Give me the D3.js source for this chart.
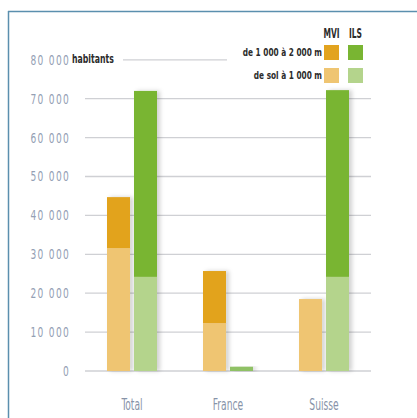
<!DOCTYPE html>
<html><head><meta charset="utf-8">
<script src="https://cdn.jsdelivr.net/npm/d3@7"></script>
<style>
html,body{margin:0;padding:0;background:#fff;}
text{font-family:"DejaVu Sans Condensed","DejaVu Sans",sans-serif;}
</style></head>
<body><svg id="c" width="417" height="418"></svg>
<script>
const categories = ["Total", "France", "Suisse"];
const series = ["MVI", "ILS"];
const layers = ["de sol à 1 000 m", "de 1 000 à 2 000 m"];
// [low (sol-1000), high (1000-2000)] per category, per series
const mviLow  = [31600, 12300, 18500];
const mviHigh = [13100, 13400, 0];
const ilsLow  = [24200, 1100, 24200];
const ilsHigh = [47800, 0, 48000];
const yTicks = [0, 10000, 20000, 30000, 40000, 50000, 60000, 70000, 80000];
const tickLabels = ["0", "10 000", "20 000", "30 000", "40 000", "50 000", "60 000", "70 000", "80 000"];

const colors = {
  MVI: ["#efc572", "#e2a31f"],
  ILS: ["#b4d48c", "#79b532"]
};
const franceIlsColor = "#8fc165";

const svg = d3.select("#c");
const defs = svg.append("defs");
const f = defs.append("filter").attr("id","sh").attr("x","-20%").attr("y","-5%").attr("width","160%").attr("height","110%");
f.append("feDropShadow").attr("dx",3).attr("dy",0).attr("stdDeviation",2).attr("flood-color","#000").attr("flood-opacity",0.18);

function sText(parent, x, y, str, o) {
  const g = parent.append("g").attr("transform", `translate(${x},${y}) scale(${o.sx},1)`);
  return g.append("text").attr("text-anchor", o.anchor || "start").attr("dy", o.dy || "0.35em")
    .attr("font-size", o.size).attr("font-weight", o.weight || "normal")
    .attr("letter-spacing", o.ls || 0).attr("fill", o.fill).text(str);
}

// frame
svg.append("line").attr("x1",8.5).attr("x2",8.5).attr("y1",11).attr("y2",418).attr("stroke","#5b8fae").attr("stroke-width",1.5);
svg.append("line").attr("x1",8).attr("x2",417).attr("y1",11.5).attr("y2",11.5).attr("stroke","#5b8fae").attr("stroke-width",1.5);

const y = d3.scaleLinear().domain([0, 80000]).range([371, 59.8]);
const x0 = d3.scaleBand().domain(categories).range([84, 372]).padding(0);
const x1 = d3.scaleBand().domain(series).range([0, x0.bandwidth()]).paddingInner(0.148).paddingOuter(0.852);

// gridlines
svg.append("g").selectAll("line").data(yTicks.slice(0, -1)).join("line")
  .attr("x1", 85).attr("x2", 371)
  .attr("y1", d => y(d)).attr("y2", d => y(d))
  .attr("stroke", "#cfd0d4").attr("stroke-width", 1.3);
svg.append("line").attr("x1",123).attr("x2",227).attr("y1",y(80000)).attr("y2",y(80000))
  .attr("stroke","#cfd0d4").attr("stroke-width",1.3);

// tick labels
const tg = svg.append("g");
yTicks.forEach((d, i) => {
  sText(tg, 70, y(d), tickLabels[i], {sx:0.72, size:14, anchor:"end", ls:1.8, fill:"#94a0b4"});
});
sText(svg, 72, y(80000) - 1, "habitants", {sx:0.72, size:12, weight:"bold", fill:"#2b2b2b"});

// bars
const data = [];
categories.forEach((c, i) => {
  data.push({c, s:"MVI", lo:mviLow[i], hi:mviHigh[i]});
  data.push({c, s:"ILS", lo:ilsLow[i], hi:ilsHigh[i]});
});
const g = svg.append("g");
data.forEach(d => {
  const bx = x0(d.c) + x1(d.s), bw = x1.bandwidth();
  const grp = g.append("g").attr("filter","url(#sh)");
  const lowColor = (d.c === "France" && d.s === "ILS") ? franceIlsColor : colors[d.s][0];
  grp.append("rect").attr("x", bx).attr("width", bw)
    .attr("y", y(d.lo)).attr("height", y(0) - y(d.lo)).attr("fill", lowColor);
  if (d.hi > 0) {
    grp.append("rect").attr("x", bx).attr("width", bw)
      .attr("y", y(d.lo + d.hi)).attr("height", y(d.lo) - y(d.lo + d.hi)).attr("fill", colors[d.s][1]);
  }
});

// category labels
categories.forEach(c => {
  sText(svg, x0(c) + x0.bandwidth()/2, 405, c, {sx:0.68, size:15, anchor:"middle", fill:"#8793a8"});
});

// legend
const lx = {MVI: 324, ILS: 348};
const ly = [68, 45]; // low, high
series.forEach(s => {
  sText(svg, lx[s] + 7.5, 33, s, {sx:0.62, size:13.5, weight:"bold", anchor:"middle", fill:"#2b2b2b"});
  [0,1].forEach(k => {
    svg.append("rect").attr("x", lx[s]).attr("y", ly[k]).attr("width", 15).attr("height", 15)
      .attr("fill", colors[s][k]);
  });
});
[1,0].forEach(k => {
  sText(svg, 322, ly[k] + 7.5, layers[k], {sx:0.78, size:10.5, weight:"bold", anchor:"end", fill:"#2b2b2b"});
});
</script></body></html>
